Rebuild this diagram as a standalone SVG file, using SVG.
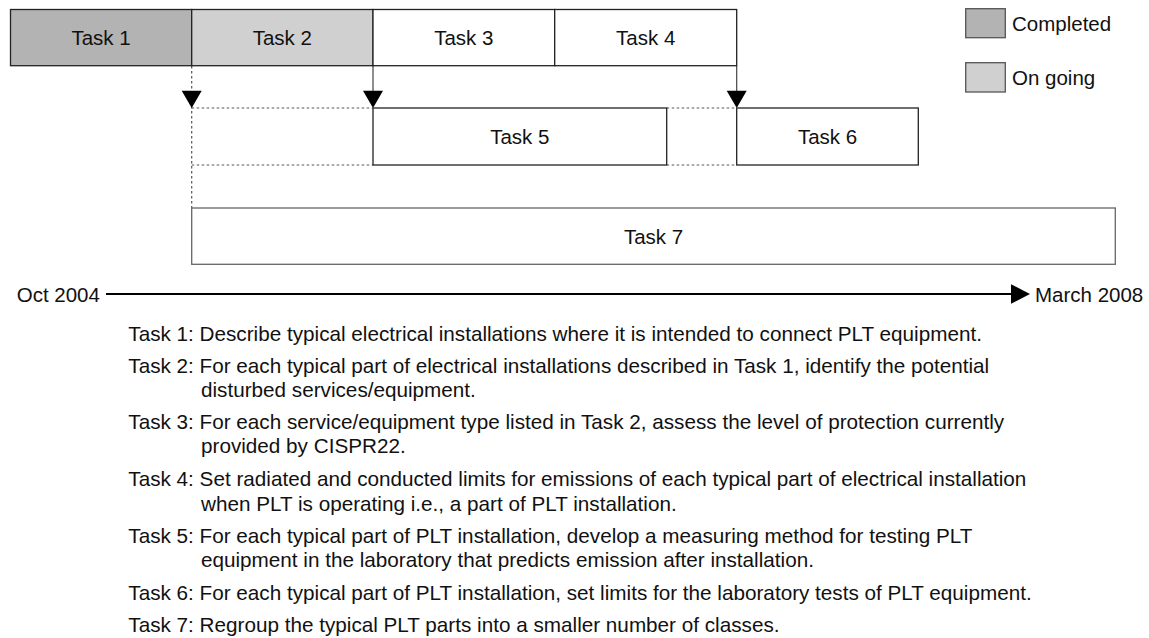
<svg xmlns="http://www.w3.org/2000/svg" width="1149" height="638" viewBox="0 0 1149 638">
<defs>
<style>
text{font-family:"Liberation Sans",Arial,Helvetica,sans-serif;font-size:20.5px;fill:#111}
.desc text{font-size:20.7px}
.lbl{text-anchor:middle}
.box{fill:#fff;stroke:#222;stroke-width:1.3}
.done{fill:#b3b3b3}
.going{fill:#d0d0d0}
.gbox{fill:#fff;stroke:#666;stroke-width:1.3}
.lg{stroke:#555;stroke-width:1.3}
.dot{fill:none;stroke:#555;stroke-width:1.2;stroke-dasharray:2.5 2.5}
.sol{fill:none;stroke:#444;stroke-width:1.2}
.head{fill:#000}
.axis{fill:none;stroke:#000;stroke-width:2}
</style>
</defs>
<rect width="1149" height="638" fill="#fff"/>

<g id="connectors">
<path class="dot" d="M191.7,66 V208"/>
<path class="sol" d="M373,66 V92"/>
<path class="sol" d="M736.7,66 V92"/>
<path class="dot" d="M191.7,108 H373 M191.7,165 H373 M666.7,108 H736.7 M666.7,165 H736.7"/>
<polygon class="head" points="181.7,90.7 201.7,90.7 191.7,108"/>
<polygon class="head" points="363,90.7 383,90.7 373,108"/>
<polygon class="head" points="726.7,90.7 746.7,90.7 736.7,108"/>
</g>

<g id="task1"><rect class="box done" x="10.5" y="9.5" width="181.2" height="56.2"/><text class="lbl" x="101" y="45">Task 1</text></g>
<g id="task2"><rect class="box going" x="191.7" y="9.5" width="181.3" height="56.2"/><text class="lbl" x="282.3" y="45">Task 2</text></g>
<g id="task3"><rect class="box" x="373" y="9.5" width="181.7" height="56.2"/><text class="lbl" x="463.8" y="45">Task 3</text></g>
<g id="task4"><rect class="box" x="554.7" y="9.5" width="182" height="56.2"/><text class="lbl" x="645.7" y="45">Task 4</text></g>
<g id="task5"><rect class="box" x="373" y="108" width="293.7" height="57"/><text class="lbl" x="519.8" y="144">Task 5</text></g>
<g id="task6"><rect class="box" x="736.7" y="108" width="181.6" height="57"/><text class="lbl" x="827.5" y="144">Task 6</text></g>
<g id="task7"><rect class="gbox" x="191.7" y="208" width="923.6" height="56.3"/><text class="lbl" x="653.5" y="243.5">Task 7</text></g>

<g id="legend-completed"><rect class="lg done" x="965.7" y="8.7" width="39.6" height="29"/><text x="1012" y="31">Completed</text></g>
<g id="legend-ongoing"><rect class="lg going" x="965.7" y="62.7" width="39.6" height="29.3"/><text x="1012" y="85">On going</text></g>

<g id="timeline">
<text x="16.7" y="302">Oct 2004</text>
<path class="axis" d="M106,294 H1014"/>
<polygon class="head" points="1011,284.3 1030,294 1011,303.7"/>
<text x="1035" y="302">March 2008</text>
</g>

<g id="descriptions" class="desc">
<text x="128.3" y="341">Task 1: Describe typical electrical installations where it is intended to connect PLT equipment.</text>
<text y="372.5"><tspan x="128.3">Task 2: For each typical part of electrical installations described in Task 1, identify the potential</tspan><tspan x="201" y="396.7">disturbed services/equipment.</tspan></text>
<text y="428.5"><tspan x="128.3">Task 3: For each service/equipment type listed in Task 2, assess the level of protection currently</tspan><tspan x="201" y="453">provided by CISPR22.</tspan></text>
<text y="486.3"><tspan x="128.3">Task 4: Set radiated and conducted limits for emissions of each typical part of electrical installation</tspan><tspan x="201" y="510.8">when PLT is operating i.e., a part of PLT installation.</tspan></text>
<text y="543"><tspan x="128.3">Task 5: For each typical part of PLT installation, develop a measuring method for testing PLT</tspan><tspan x="201" y="567.3">equipment in the laboratory that predicts emission after installation.</tspan></text>
<text x="128.3" y="599.5">Task 6: For each typical part of PLT installation, set limits for the laboratory tests of PLT equipment.</text>
<text x="128.3" y="631.5">Task 7: Regroup the typical PLT parts into a smaller number of classes.</text>
</g>
</svg>
